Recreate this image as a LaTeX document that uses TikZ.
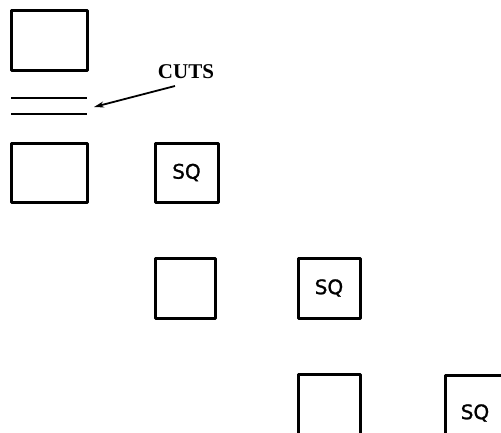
\documentclass[tikz,border=0pt]{standalone}
\usepackage{fontspec}
\setmainfont{Liberation Serif}
\newfontfamily\sqfont[FakeBold=1.2]{DejaVu Sans}
\usetikzlibrary{arrows.meta}
\begin{document}
\begin{tikzpicture}[x=1pt,y=-1pt,
  blk/.style={draw=black,line width=3pt,inner sep=0pt,line join=round},
  sqtext/.style={font=\sqfont\fontsize{20}{21}\selectfont},
  cut/.style={line width=2pt},
  lbl/.style={font=\bfseries\fontsize{21}{22}\selectfont}]
\useasboundingbox (0,0) rectangle (501,432);
\begin{scope}
\clip (0,0) rectangle (501,432);
% first column: block, cut, block
\node[blk,minimum width=76pt,minimum height=60pt] (a1) at (49,40) {};
\draw[cut] (11,98) -- (87,98);
\draw[cut] (11,114) -- (87,114);
\coordinate (cutend) at (94,107);
\node[blk,minimum width=76pt,minimum height=59pt] (a2) at (49,172.5) {};
\node[blk,minimum width=63pt,minimum height=59pt,sqtext] (s1) at (186.5,172.5) {SQ};
% second row
\node[blk,minimum width=60pt,minimum height=60pt] (b1) at (185,288) {};
\node[blk,minimum width=62pt,minimum height=60pt,sqtext] (s2) at (329,288) {SQ};
% third row (runs past the lower edge)
\node[blk,minimum width=62pt,minimum height=60pt] (c1) at (329,404) {};
\node[blk,minimum width=62pt,minimum height=60pt] (s3) at (476,405) {};
\node[sqtext] (s3t) at (475,413) {SQ};
% label and arrow
\node[lbl] (cuts) at (186,72) {CUTS};
\draw[line width=1.8pt,-{Stealth[length=10pt,width=6pt]}] (175,86) -- (cutend);
\end{scope}
\end{tikzpicture}
\end{document}
